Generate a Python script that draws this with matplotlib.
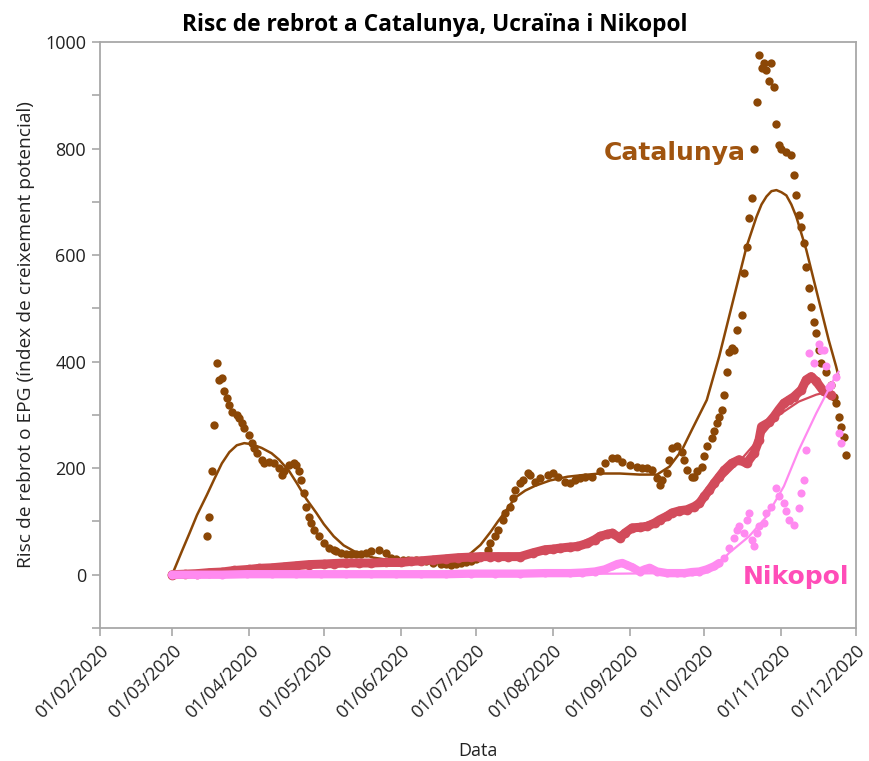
import numpy as np
import matplotlib
matplotlib.use('Agg')
import matplotlib.pyplot as plt
import matplotlib.dates as mdates

# day offsets counted from 01/03/2020
START = np.datetime64('2020-03-01')

cat_days = [0, 14, 15, 16, 17, 18, 19, 20, 21, 22, 23, 24, 26, 27, 28, 29, 31, 32, 33, 34,
            36, 37, 39, 41, 43, 44, 45, 47, 49, 50, 51, 52, 53, 54, 55, 56, 57, 59, 61, 63,
            65, 66, 68, 70, 72, 74, 76, 78, 80, 83, 86, 88, 90, 93, 95, 98, 100, 102, 105, 108,
            110, 112, 114, 116, 118, 120, 122, 124, 127, 128, 130,
            131, 133, 134, 136, 137, 138, 140, 141, 143, 144, 146, 148, 151, 153, 155, 158, 160, 162, 164, 166, 169,
            172, 174, 177, 179, 181, 184, 187, 189, 191, 193, 195, 196, 197, 199, 200, 201, 203, 205, 206, 207,
            209, 210, 211, 213, 214, 215, 217, 218, 219, 220, 221, 222, 223, 224, 225, 226, 227, 229, 230, 231,
            232, 233, 234, 235, 236, 237, 238, 239, 240, 241, 242, 243, 244, 245, 247, 249, 250, 251, 252, 253,
            254, 255, 256, 257, 258, 259, 260, 261, 263, 265, 266, 267, 268, 269, 270, 271]
cat_vals = [0, 73, 109, 195, 281, 397, 366, 370, 344, 331, 319, 306, 300, 294, 285, 275, 263, 247, 238, 228,
            216, 209, 212, 209, 200, 188, 194, 206, 210, 206, 194, 178, 153, 128, 109, 97, 84, 72, 59, 50,
            47, 44, 41, 39, 38, 38, 38, 41, 44, 46, 41, 31, 30, 28, 28, 28, 26, 25, 22, 20,
            20, 19, 20, 22, 23, 25, 29, 34, 47, 59, 72,
            84, 103, 116, 128, 144, 159, 172, 178, 191, 188, 175, 181, 188, 191, 184, 175, 172, 178, 181, 184, 184,
            194, 209, 219, 219, 212, 206, 203, 200, 200, 197, 181, 169, 178, 191, 216, 238, 241, 231, 216, 197,
            184, 184, 194, 203, 222, 241, 256, 269, 285, 297, 310, 338, 381, 419, 425, 422, 460, 488, 566, 616,
            669, 707, 800, 888, 975, 951, 960, 947, 926, 960, 916, 847, 807, 800, 794, 788, 750, 713, 675, 653,
            622, 578, 538, 503, 475, 453, 422, 397, 381, 356, 334, 322, 297, 278, 259, 225]

cat_fit_days = [0, 4, 7, 10, 14, 17, 20, 23, 26, 29, 32, 36, 40, 43, 47, 50, 54, 58, 61, 65,
                69, 74, 81, 88, 95, 105, 112, 116, 120, 124, 128, 131, 135, 138, 142, 146, 152, 159, 165, 172,
                180, 188, 195, 200, 205, 209, 215, 220, 224, 228, 231, 235, 237, 239, 241, 243, 245, 247, 249, 251,
                255, 260, 264, 267, 268]
cat_fit_vals = [0, 45, 78, 112, 150, 180, 209, 230, 243, 247, 245, 238, 228, 216, 195, 173, 142, 116, 95, 72,
                55, 42, 32, 27, 24, 23, 25, 30, 40, 56, 80, 100, 125, 145, 158, 167, 177, 184, 187, 190,
                190, 188, 188, 203, 234, 272, 328, 410, 485, 560, 616, 672, 695, 710, 720, 722, 718, 712, 695, 672,
                610, 516, 441, 391, 372]

ucr_days = [0, 5, 10, 15, 20, 25, 31, 35, 40, 45, 50, 55, 61, 65, 70, 75, 80, 86, 92, 96,
            100, 105, 110, 115, 120, 124, 128, 131, 135, 140, 145, 150, 153, 156, 160, 163, 167, 170, 172, 175,
            177, 180, 182, 185, 188, 191, 194, 196, 199, 201, 204, 207, 210, 212, 214, 216, 218, 220, 222, 225,
            228, 231, 234, 236, 237, 240, 242, 244, 246, 248, 250, 253, 255, 257, 259, 262, 265]
ucr_vals = [0, 1, 2, 4, 5, 8, 10, 12, 13, 15, 17, 19, 20, 21, 22, 22, 22, 23, 23, 25,
            26, 28, 30, 32, 33, 34, 34, 34, 34, 34, 41, 47, 48, 50, 52, 53, 59, 66, 72, 76,
            78, 69, 78, 88, 89, 91, 97, 103, 110, 116, 120, 122, 128, 134, 147, 159, 172, 184, 196, 209,
            216, 209, 228, 253, 278, 286, 297, 310, 322, 328, 334, 347, 366, 372, 363, 344, 338]

ucr_fit_days = [0, 31, 61, 92, 124, 155, 172, 185, 200, 212, 220, 228, 236, 244, 252, 259, 265]
ucr_fit_vals = [0, 12, 20, 24, 32, 47, 68, 85, 115, 135, 175, 212, 255, 300, 325, 338, 345]

nik_days = [0, 10, 20, 30, 40, 50, 60, 70, 80, 90, 100, 110, 120, 130, 140, 150, 160, 165, 170, 174,
            177, 179, 181, 183, 185, 188, 190, 192, 195, 199, 203, 206, 209, 212, 215, 218, 220, 222, 224, 226,
            227, 228, 230, 231, 232, 233, 234, 235, 236, 238, 239, 241, 243, 244, 246, 247, 248, 250, 252, 253,
            254, 255, 256, 258, 260, 261, 262, 263, 264, 265, 267, 268, 269]
nik_vals = [0, 0, 0, 1, 1, 1, 1, 1, 1, 1, 1, 1, 2, 2, 2, 3, 3, 4, 6, 10,
            16, 20, 22, 18, 14, 6, 10, 13, 6, 3, 3, 3, 5, 6, 10, 16, 22, 31, 50, 69,
            84, 91, 78, 103, 116, 66, 53, 78, 91, 97, 116, 128, 163, 147, 134, 119, 103, 94, 125, 153,
            178, 234, 416, 397, 434, 422, 422, 391, 353, 356, 372, 266, 247]

nik_fit_days = [0, 60, 120, 180, 200, 212, 217, 220, 224, 232, 239, 246, 252, 259, 266, 268]
nik_fit_vals = [0, 0, 1, 2, 3, 6, 13, 22, 41, 72, 109, 166, 234, 303, 366, 381]

BROWN = '#8B4706'
RED = '#D24B5B'
PINK = '#FF8AF0'
UI_FONT = ['Open Sans', 'DejaVu Sans']


def to_dates(days):
    return START + np.array(days, dtype='timedelta64[D]')


fig = plt.figure(figsize=(8.69, 7.61), dpi=100)
ax = fig.add_axes([100 / 869, 1 - 628 / 761, 756 / 869, 586 / 761])

# Catalunya
ax.scatter(to_dates(cat_days), cat_vals, s=36, color=BROWN, lw=0, zorder=3)
ax.plot(to_dates(cat_fit_days), cat_fit_vals, color=BROWN, lw=1.8, zorder=3,
        solid_joinstyle='round')

# Ucraina
ax.plot(to_dates(ucr_days), ucr_vals, color=RED, lw=6.5, marker='o', ms=7, mew=0, zorder=4,
        solid_capstyle='round', solid_joinstyle='round')
ax.plot(to_dates(ucr_fit_days), ucr_fit_vals, color=RED, lw=1.6, zorder=4)

# Nikopol: daily points merge into a band while the values stay low
flat = sum(1 for d in nik_days if d <= 220)
ax.plot(to_dates(nik_days[:flat]), nik_vals[:flat], color=PINK, lw=6, zorder=5,
        solid_capstyle='round', solid_joinstyle='round')
ax.scatter(to_dates(nik_days), nik_vals, s=34, color=PINK, lw=0, zorder=5)
ax.plot(to_dates(nik_fit_days), nik_fit_vals, color=PINK, lw=1.6, zorder=5)

ax.text(to_dates([202])[0], 792, 'Catalunya', color='#A0540F', fontsize=18, fontweight='bold',
        family='DejaVu Sans', ha='center', va='center', zorder=6)
ax.text(to_dates([251])[0], -4, 'Nikopol', color='#FF4DB8', fontsize=18, fontweight='bold',
        family='DejaVu Sans', ha='center', va='center', zorder=6)

ax.set_xlim(np.datetime64('2020-02-01'), np.datetime64('2020-12-01'))
ax.set_ylim(-100, 1000)
ax.xaxis.set_major_locator(mdates.MonthLocator())
ax.xaxis.set_major_formatter(mdates.DateFormatter('%d/%m/%Y'))
ax.set_yticks(range(0, 1001, 200))
ax.set_yticks(range(-100, 1000, 200), minor=True)

for s in ax.spines.values():
    s.set_color('#A8A8A8')
    s.set_linewidth(1.3)
ax.tick_params(which='both', direction='out', color='#A8A8A8', length=6, width=1.2,
               labelsize=13, labelcolor='#222222', pad=4)
for lab in ax.get_xticklabels() + ax.get_yticklabels():
    lab.set_family(UI_FONT)
plt.setp(ax.get_xticklabels(), rotation=45, ha='right', va='top', rotation_mode='anchor')

ax.set_xlabel('Data', fontsize=13, color='#222222', labelpad=14, family=UI_FONT)
ax.set_ylabel('Risc de rebrot o EPG (índex de creixement potencial)', fontsize=13.8, color='#222222',
              labelpad=7, family=UI_FONT)
fig.text(0.5, 1 - 25 / 761, 'Risc de rebrot a Catalunya, Ucraïna i Nikopol', ha='center', va='center',
         fontsize=16.4, fontweight='bold', color='black', family=UI_FONT)

fig.savefig('out.png', dpi=100)
